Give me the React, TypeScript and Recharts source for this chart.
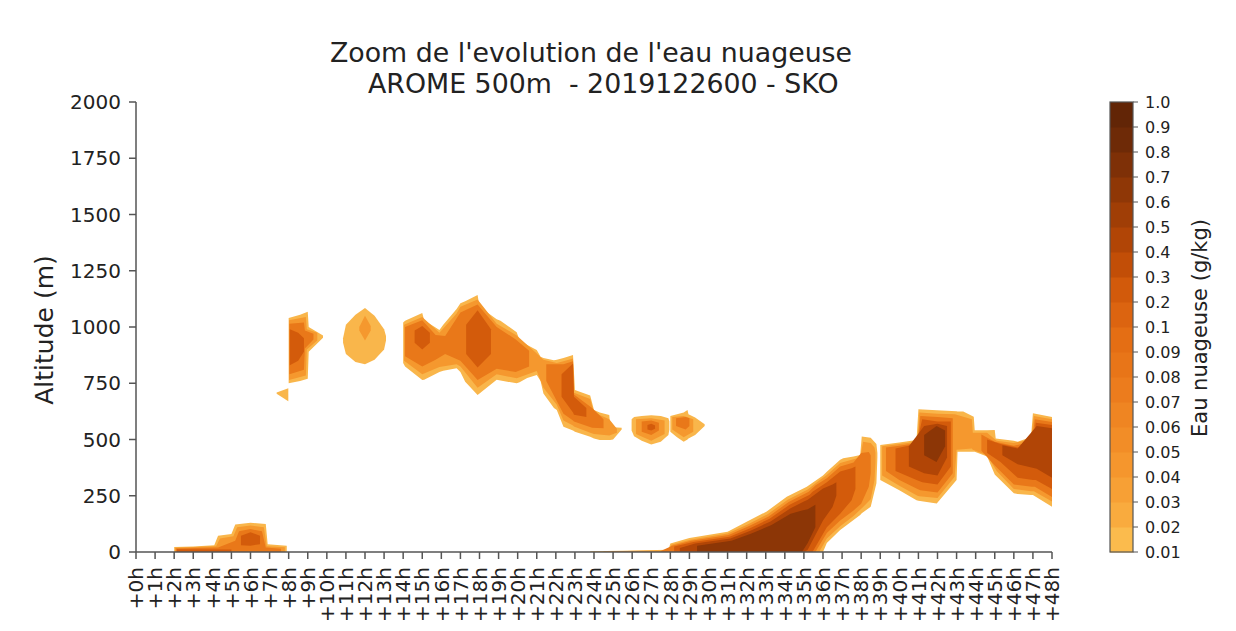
import React from 'react'
import { ComposedChart, Area, XAxis, YAxis, Customized } from 'recharts'

// each patch: [contour level, [hour, low altitude, high altitude][]]
type Pt = [number, number, number]
type Patch = [number, Pt[]]

const hourTicks = [0, 1, 2, 3, 4, 5, 6, 7, 8, 9, 10, 11, 12, 13, 14, 15, 16, 17, 18, 19, 20, 21, 22, 23, 24,
  25, 26, 27, 28, 29, 30, 31, 32, 33, 34, 35, 36, 37, 38, 39, 40, 41, 42, 43, 44, 45, 46, 47, 48]
const altTicks = [0, 250, 500, 750, 1000, 1250, 1500, 1750, 2000]
const cbLabels = ['0.01', '0.02', '0.03', '0.04', '0.05', '0.06', '0.07', '0.08', '0.09', '0.1',
  '0.2', '0.3', '0.4', '0.5', '0.6', '0.7', '0.8', '0.9', '1.0']
const cbColors = ['#fbbb4d', '#f9ab3e', '#f7a035', '#f5962d', '#f28d27', '#ef8522', '#ec7c1d', '#e87518', '#e46e14',
  '#dc6410', '#d25a0b', '#c24e07', '#b14506', '#a03e06', '#8f3706', '#7e3007', '#6e2a07', '#622506']
const levelColors = ['#f9b64b', '#f5982e', '#e97819', '#d35b0b', '#b14506', '#8c3606']

const groundMorning: Patch[] = [
  [0, [[2.0, 0, 22], [3.0, 0, 25], [4.1, 0, 30], [4.3, 0, 72], [5.0, 0, 80], [5.2, 0, 122], [6.0, 0, 130], [6.8, 0, 125], [6.9, 0, 35], [7.9, 0, 28]]],
  [1, [[2.05, 0, 19], [4.2, 0, 26], [4.4, 0, 60], [5.1, 0, 70], [5.3, 0, 110], [6.0, 0, 118], [6.7, 0, 110], [6.85, 0, 26], [7.8, 0, 21]]],
  [2, [[2.1, 0, 16], [4.3, 0, 20], [5.2, 0, 50], [5.4, 0, 92], [6.0, 0, 102], [6.6, 0, 92], [6.8, 0, 20], [7.6, 0, 15]]],
  [3, [[2.15, 0, 12], [5.0, 0, 11]]],
  [3, [[5.5, 30, 72], [6.0, 28, 88], [6.5, 35, 72]]],
]

const smallPatch: Patch[] = [
  [0, [[7.37, 703, 709], [7.98, 670, 728]]],
]

const cloud9h: Patch[] = [
  [0, [[8.0, 750, 1040], [8.6, 760, 1055], [9.0, 770, 1068], [9.05, 890, 1000], [9.8, 952, 962]]],
  [1, [[8.02, 765, 1030], [8.9, 785, 1045], [8.95, 900, 990], [9.5, 940, 975]]],
  [2, [[8.04, 790, 1015], [8.8, 810, 1020], [8.85, 905, 985], [9.3, 945, 970]]],
  [3, [[8.06, 830, 990], [8.5, 850, 975], [8.8, 890, 950]]],
]

const cloud12h: Patch[] = [
  [0, [[10.85, 930, 950], [11.0, 880, 1010], [11.5, 845, 1055], [12.0, 835, 1084], [12.5, 855, 1050], [13.0, 900, 990], [13.1, 940, 960]]],
  [1, [[11.7, 985, 1000], [12.0, 940, 1050], [12.3, 985, 1005]]],
]

const cloudDay: Patch[] = [
  [0, [[14.0, 840, 1020], [14.1, 824, 1028], [15.0, 764, 1062], [15.1, 766, 1030], [15.9, 800, 987], [16.1, 806, 1010],
    [16.8, 817, 1080], [17.0, 800, 1106], [17.25, 757, 1115], [17.9, 698, 1142], [18.0, 705, 1090], [18.9, 766, 1035],
    [19.1, 762, 1028], [19.95, 750, 977], [20.1, 755, 940], [20.5, 773, 920], [21.0, 787, 898], [21.2, 760, 868],
    [21.35, 705, 862], [21.9, 640, 852], [22.05, 631, 855], [22.4, 557, 862], [22.9, 540, 876], [23.0, 535, 720],
    [23.8, 512, 696], [24.0, 505, 631], [24.3, 498, 620], [24.8, 498, 609], [24.85, 498, 560], [25.0, 500, 555], [25.45, 545, 552]]],
  [1, [[14.05, 850, 1010], [15.0, 790, 1045], [15.9, 822, 975], [16.8, 835, 1060], [17.0, 825, 1090], [17.9, 730, 1122],
    [18.9, 790, 1015], [19.95, 772, 962], [21.0, 805, 882], [21.35, 730, 855], [22.05, 655, 840], [22.4, 585, 848],
    [22.9, 562, 860], [22.95, 558, 708], [23.8, 530, 680], [24.0, 525, 620], [24.8, 518, 590], [25.2, 530, 548]]],
  [2, [[14.1, 870, 1000], [15.0, 825, 1030], [15.7, 855, 965], [16.2, 880, 960], [17.0, 850, 1065], [17.9, 765, 1100],
    [18.9, 815, 1000], [19.9, 800, 945], [20.6, 825, 895]]],
  [2, [[21.5, 760, 835], [22.4, 615, 835], [22.9, 585, 848], [22.95, 580, 700], [23.9, 552, 640], [24.5, 550, 590]]],
  [3, [[14.6, 930, 985], [15.0, 900, 1005], [15.4, 930, 975]]],
  [3, [[17.3, 880, 1010], [17.9, 820, 1075], [18.6, 880, 990]]],
  [3, [[22.3, 690, 790], [22.9, 620, 838], [22.95, 610, 690], [23.6, 600, 640]]],
]

const cloud27h: Patch[] = [
  [0, [[25.97, 540, 590], [26.1, 515, 600], [26.5, 495, 605], [27.0, 478, 608], [27.5, 490, 605], [27.9, 520, 595], [27.95, 545, 580]]],
  [1, [[26.2, 525, 590], [27.0, 495, 595], [27.7, 525, 585]]],
  [2, [[26.5, 535, 580], [27.0, 520, 585], [27.4, 540, 575]]],
  [3, [[26.8, 545, 565], [27.0, 540, 570], [27.2, 548, 562]]],
]

const cloud29h: Patch[] = [
  [0, [[28.0, 535, 605], [28.35, 510, 612], [28.7, 490, 620], [28.9, 500, 631], [28.95, 505, 612], [29.3, 520, 598], [29.8, 560, 568]]],
  [1, [[28.1, 545, 600], [28.7, 510, 605], [29.2, 535, 590]]],
  [2, [[28.3, 560, 595], [28.8, 545, 600], [29.0, 560, 595]]],
]

const groundNight: Patch[] = [
  [0, [[23.8, 0, 3], [25.5, 0, 6], [27.9, 0, 10], [28.0, 0, 38], [29.0, 0, 62], [31.0, 0, 90], [32.0, 0, 135], [33.05, 0, 180],
    [34.1, 0, 246], [35.15, 0, 290], [36.0, 0, 340], [36.2, 40, 357], [36.9, 98, 410], [37.06, 108, 417], [37.6, 142, 425],
    [37.95, 165, 431], [38.03, 172, 513], [38.5, 201, 508], [38.8, 306, 480], [38.85, 420, 440]]],
  [1, [[24.5, 0, 3], [27.9, 0, 7], [28.05, 0, 32], [29.05, 0, 55], [31.0, 0, 82], [32.05, 0, 122], [33.1, 0, 168], [34.15, 0, 232],
    [35.2, 0, 278], [35.8, 0, 318], [36.2, 60, 342], [36.9, 115, 396], [37.6, 160, 412], [37.95, 188, 420], [38.1, 200, 490],
    [38.5, 235, 485], [38.7, 320, 465], [38.75, 400, 440]]],
  [2, [[27.5, 0, 4], [28.1, 0, 28], [29.1, 0, 50], [31.05, 0, 76], [32.1, 0, 115], [33.15, 0, 158], [34.2, 0, 222], [35.25, 0, 268],
    [35.6, 0, 296], [36.2, 85, 328], [36.9, 140, 380], [37.6, 185, 398], [38.0, 215, 440], [38.4, 290, 445], [38.5, 350, 430]]],
  [3, [[28.2, 0, 24], [29.2, 0, 44], [31.1, 0, 68], [32.15, 0, 105], [33.2, 0, 148], [34.25, 0, 210], [35.3, 0, 255], [35.45, 0, 268],
    [36.2, 110, 310], [36.9, 170, 358], [37.5, 230, 372], [37.7, 280, 380]]],
  [4, [[28.5, 0, 18], [29.3, 0, 38], [31.15, 0, 60], [32.2, 0, 95], [33.25, 0, 136], [34.3, 0, 195], [35.0, 0, 225], [35.2, 10, 232],
    [36.0, 140, 282], [36.5, 200, 300], [36.7, 250, 310]]],
  [5, [[29.4, 0, 28], [31.2, 0, 50], [32.25, 0, 82], [33.3, 0, 120], [34.3, 0, 170], [34.9, 0, 185], [35.2, 40, 190], [35.6, 110, 210]]],
]

const cloudEnd: Patch[] = [
  [0, [[39.0, 320, 476], [40.0, 275, 487], [40.9, 230, 498], [41.0, 228, 634], [41.96, 216, 630], [43.0, 320, 626], [43.05, 446, 625],
    [43.35, 446, 624], [43.9, 446, 601], [43.95, 446, 541], [44.6, 424, 541], [45.0, 345, 542], [45.05, 340, 504], [46.0, 261, 494],
    [46.2, 258, 490], [46.9, 253, 511], [47.0, 253, 617], [48.0, 201, 600]]],
  [1, [[39.1, 340, 470], [40.0, 295, 480], [40.95, 250, 490], [41.05, 248, 620], [42.0, 240, 615], [42.9, 335, 612], [43.0, 455, 610],
    [43.8, 460, 590], [43.85, 455, 530], [44.6, 430, 530], [45.1, 360, 495], [46.0, 280, 485], [46.9, 270, 500], [47.05, 270, 605],
    [48.0, 225, 590]]],
  [2, [[39.3, 360, 465], [40.0, 320, 472], [40.95, 280, 485], [41.1, 275, 605], [42.0, 265, 600], [42.8, 350, 595]]],
  [2, [[44.3, 450, 522], [45.0, 385, 490], [46.0, 300, 472], [46.95, 290, 490], [47.1, 290, 590], [48.0, 245, 578]]],
  [3, [[39.8, 360, 460], [40.9, 320, 480], [41.2, 310, 590], [42.0, 300, 580], [42.7, 380, 580]]],
  [3, [[44.6, 440, 500], [45.3, 400, 480], [46.2, 330, 465], [47.0, 320, 480], [47.15, 320, 575], [48.0, 280, 565]]],
  [4, [[40.5, 380, 470], [41.3, 350, 560], [42.0, 340, 570], [42.5, 420, 560]]],
  [4, [[45.4, 430, 475], [46.2, 390, 460], [47.2, 370, 560], [48.0, 330, 550]]],
  [5, [[41.3, 430, 520], [41.95, 400, 560], [42.4, 470, 540]]],
]

const allPatches: Patch[] = [
  ...groundMorning, ...smallPatch, ...cloud9h, ...cloud12h, ...cloudDay,
  ...cloud27h, ...cloud29h, ...groundNight, ...cloudEnd,
]

const font = 'DejaVu Sans'

function HourTick(props: any) {
  const { x, y, payload } = props
  return (
    <text x={x} y={y} transform={`rotate(-90, ${x}, ${y})`} textAnchor="end" dy="0.36em"
      fontSize={20} fill="#222" fontFamily={font}>
      {`+${payload.value}h`}
    </text>
  )
}

function Overlay() {
  const top = 94
  const bandH = 450 / cbColors.length
  return (
    <g fontFamily={font} fill="#222">
      <text x={583} y={54} textAnchor="middle" fontSize={26.8}>Zoom de l'evolution de l'eau nuageuse</text>
      <text x={591} y={85} textAnchor="middle" fontSize={26.8} style={{ whiteSpace: 'pre' }}>
        {' AROME 500m  - 2019122600 - SKO'}
      </text>
      <text x={36} y={322} transform="rotate(-90, 36, 322)" textAnchor="middle" dy="0.36em" fontSize={25}>Altitude (m)</text>
      {cbColors.map((c, i) => (
        <rect key={c} x={1102} y={top + 450 - (i + 1) * bandH} width={23} height={bandH + 0.5} fill={c} />
      ))}
      <rect x={1102} y={top} width={23} height={450} fill="none" stroke="#555" strokeWidth={1.2} />
      {cbLabels.map((l, i) => {
        const y = top + 450 - i * bandH
        return (
          <g key={l}>
            <line x1={1125} x2={1130} y1={y} y2={y} stroke="#555" />
            <text x={1137} y={y} dy="0.36em" fontSize={16}>{l}</text>
          </g>
        )
      })}
      <text x={1191} y={320} transform="rotate(-90, 1191, 320)" textAnchor="middle" dy="0.36em" fontSize={21}>
        Eau nuageuse (g/kg)
      </text>
    </g>
  )
}

export default function App() {
  return (
    <ComposedChart width={1228} height={623} margin={{ top: 94, right: 184, bottom: 0, left: 0 }}
      style={{ fontFamily: font }}>
      <XAxis dataKey="h" type="number" domain={[0, 48]} ticks={hourTicks} interval={0} height={79}
        tick={<HourTick />} tickSize={7} tickMargin={8} stroke="#555" strokeWidth={1.5} allowDataOverflow />
      <XAxis xAxisId="top" orientation="top" dataKey="h" type="number" domain={[0, 48]} height={0}
        tick={false} tickLine={false} stroke="#555" strokeWidth={1.5} allowDataOverflow />
      <YAxis type="number" domain={[0, 2000]} ticks={altTicks} width={128} tickSize={7} tickMargin={8}
        tick={{ fontSize: 20, fill: '#222', fontFamily: font }} stroke="#555" strokeWidth={1.5} allowDataOverflow />
      <YAxis yAxisId="right" orientation="right" type="number" domain={[0, 2000]} width={0}
        tick={false} tickLine={false} stroke="#555" strokeWidth={1.5} allowDataOverflow />
      {allPatches.map(([level, pts], i) => (
        <Area key={i} data={pts.map(([h, lo, hi]) => ({ h, v: [lo, hi] }))} dataKey="v" type="linear"
          stroke="none" fill={levelColors[level]} fillOpacity={1} dot={false} activeDot={false}
          isAnimationActive={false} />
      ))}
      <Customized component={Overlay} />
    </ComposedChart>
  )
}
